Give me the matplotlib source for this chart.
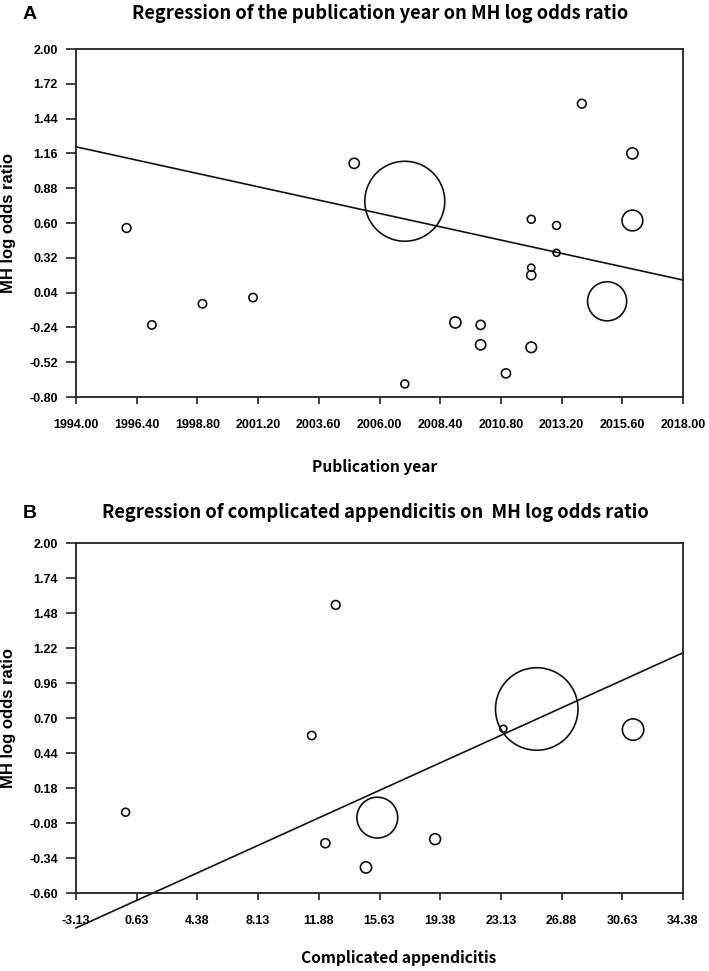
import numpy as np
import matplotlib
matplotlib.use("Agg")
import matplotlib.pyplot as plt

# panel A: publication year vs MH log odds ratio
year = [1996.0, 1997.0, 1999.0, 2001.0, 2005.0, 2007.0, 2007.0, 2009.0, 2010.0, 2010.0,
        2011.0, 2012.0, 2012.0, 2012.0, 2012.0, 2013.0, 2013.0, 2014.0, 2015.0, 2016.0, 2016.0]
lor_a = [0.56, -0.22, -0.05, 0.00, 1.08, 0.775, -0.695, -0.20, -0.22, -0.38,
         -0.61, 0.63, 0.24, 0.18, -0.40, 0.58, 0.36, 1.56, -0.03, 1.16, 0.62]
weight_a = [1.1, 1.0, 1.0, 1.0, 1.5, 92.0, 0.9, 1.8, 1.2, 1.5,
            1.2, 0.9, 0.75, 1.2, 1.6, 0.9, 0.7, 1.1, 22.0, 1.8, 6.2]
fit_a = (90.285, -0.04467)  # intercept, slope

# panel B: complicated appendicitis vs MH log odds ratio
comp = [-0.06, 11.44, 12.28, 12.92, 14.79, 15.49, 19.06, 23.28, 25.34, 31.29]
lor_b = [0.00, 0.57, -0.23, 1.54, -0.41, -0.04, -0.20, 0.62, 0.767, 0.614]
weight_b = [0.9, 1.0, 1.2, 1.1, 1.8, 24.0, 1.7, 0.7, 98.0, 6.6]
fit_b = (-0.689, 0.0545)

xt_a = np.arange(1994, 2018.01, 2.4)
yt_a = np.arange(-0.80, 2.001, 0.28)
xt_b = np.arange(-3.125, 34.376, 3.75)
yt_b = np.arange(-0.60, 2.001, 0.26)

W, H = 709, 971
fig = plt.figure(figsize=(W / 100, H / 100), dpi=100)

tick_font = dict(family="Liberation Sans", weight="bold", size=9)
title_font = dict(family="Noto Sans CJK KR", weight="bold")


def fmt(v):
    # round half away from zero, like the original software
    r = np.sign(v) * np.floor(abs(v) * 100 + 0.5 + 1e-9) / 100
    return "%.2f" % r


def panel(ax, x, y, w, fit, xt, yt):
    s = np.array(w) * 36
    ax.scatter(x, y, s=s, facecolors="none", edgecolors="#111111", linewidths=1.2, zorder=3)
    xs = np.array([xt[0], xt[-1]])
    ax.plot(xs, fit[0] + fit[1] * xs, color="#111111", lw=1.2, clip_on=False, zorder=2)
    ax.set_xlim(xt[0], xt[-1])
    ax.set_ylim(yt[0], yt[-1])
    ax.set_xticks(xt)
    ax.set_yticks(yt)
    ax.set_xticklabels([fmt(v) for v in xt], **tick_font)
    ax.set_yticklabels([fmt(v) for v in yt], **tick_font)
    ax.tick_params(direction="out", length=5, width=1.2, color="#222222", pad=11)
    ax.tick_params(axis="y", length=7, pad=6)
    for sp in ax.spines.values():
        sp.set_linewidth(1.3)
        sp.set_color("#222222")


ax1 = fig.add_axes([76 / W, 1 - 397 / H, 607 / W, 348 / H])
panel(ax1, year, lor_a, weight_a, fit_a, xt_a, yt_a)
ax2 = fig.add_axes([76 / W, 1 - 893 / H, 607 / W, 350 / H])
panel(ax2, comp, lor_b, weight_b, fit_b, xt_b, yt_b)

fig.text(30 / W, 1 - 19 / H, "A", ha="center", va="baseline", family="Liberation Sans",
         weight="bold", size=14)
fig.text(380 / W, 1 - 19 / H, "Regression of the publication year on MH log odds ratio",
         ha="center", va="baseline", size=13.2, **title_font)
fig.text(30 / W, 1 - 518 / H, "B", ha="center", va="baseline", family="Liberation Sans",
         weight="bold", size=14)
fig.text(375 / W, 1 - 518 / H, "Regression of complicated appendicitis on  MH log odds ratio",
         ha="center", va="baseline", size=13.2, **title_font)

fig.text(375 / W, 1 - 472 / H, "Publication year", ha="center", va="baseline", size=11.2, **title_font)
fig.text(399 / W, 1 - 963 / H, "Complicated appendicitis", ha="center", va="baseline", size=11.2, **title_font)

fig.text(9 / W, 1 - 223 / H, "MH log odds ratio", rotation=90, ha="center", va="center",
         family="Liberation Sans", weight="bold", size=12)
fig.text(9 / W, 1 - 718 / H, "MH log odds ratio", rotation=90, ha="center", va="center",
         family="Liberation Sans", weight="bold", size=12)

fig.savefig("out.png", dpi=100)
